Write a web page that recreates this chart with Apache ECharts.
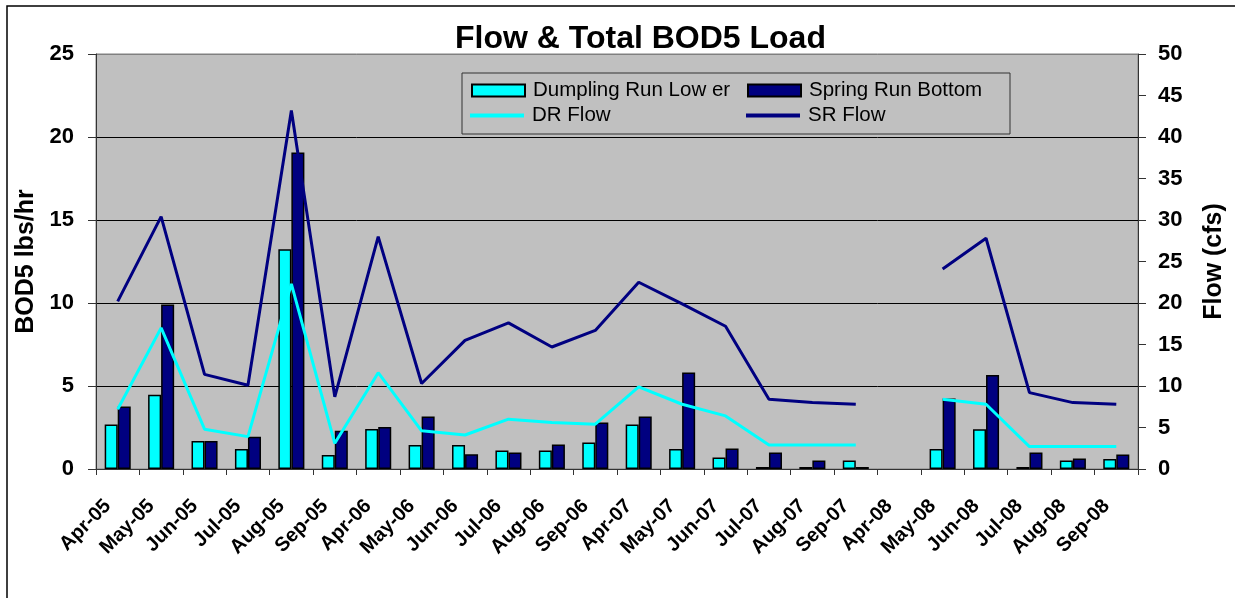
<!DOCTYPE html>
<html>
<head>
<meta charset="utf-8">
<script src="https://cdn.jsdelivr.net/npm/echarts@6/dist/echarts.min.js"></script>
<style>
html, body { margin: 0; padding: 0; background: #fff; }
#chart { width: 1235px; height: 598px; }
</style>
</head>
<body>
<div id="chart"></div>
<script>
var chart = echarts.init(document.getElementById('chart'));

// months
var months = ['Apr-05', 'May-05', 'Jun-05', 'Jul-05', 'Aug-05', 'Sep-05',
    'Apr-06', 'May-06', 'Jun-06', 'Jul-06', 'Aug-06', 'Sep-06',
    'Apr-07', 'May-07', 'Jun-07', 'Jul-07', 'Aug-07', 'Sep-07',
    'Apr-08', 'May-08', 'Jun-08', 'Jul-08', 'Aug-08', 'Sep-08'];

// BOD5 load, lbs/hr
var drLoad = [2.68, 4.48, 1.69, 1.21, 13.24, 0.84, 2.41, 1.45, 1.45, 1.11, 1.11, 1.59,
    2.68, 1.21, 0.70, 0.12, 0.12, 0.51, null, 1.21, 2.39, 0.12, 0.51, 0.60];
var srLoad = [3.76, 9.91, 1.69, 1.95, 19.07, 2.31, 2.53, 3.16, 0.89, 0.99, 1.47, 2.80,
    3.16, 5.81, 1.23, 0.99, 0.51, 0.12, null, 4.25, 5.67, 0.99, 0.63, 0.87];

// flow, cfs
var drFlow = [7.2, 17.0, 4.8, 3.9, 22.3, 3.1, 11.6, 4.6, 4.1, 6.0, 5.6, 5.4,
    9.9, 7.8, 6.4, 2.9, 2.9, 2.9, null, 8.4, 7.8, 2.7, 2.7, 2.7];
var srFlow = [20.2, 30.4, 11.4, 10.1, 43.2, 8.7, 28.0, 10.3, 15.5, 17.6, 14.7, 16.7,
    22.5, 19.9, 17.2, 8.4, 8.0, 7.8, null, 24.1, 27.8, 9.2, 8.0, 7.8];

var font = 'Arial, "Liberation Sans", sans-serif';

function legendItem(name, left, top, w, h) {
    return {
        data: [name],
        left: left,
        top: top,
        icon: 'rect',
        itemWidth: w,
        itemHeight: h,
        textStyle: { color: '#000', fontSize: 20.5, fontFamily: font, padding: [0, 0, 0, 3] }
    };
}

option = {
    animation: false,
    backgroundColor: '#ffffff',
    title: {
        text: 'Flow & Total BOD5 Load',
        left: 450,
        top: 18,
        textStyle: {
            color: '#000',
            fontSize: 32,
            fontWeight: 'bold',
            fontFamily: font
        }
    },
    grid: {
        left: 96,
        right: 93,
        top: 54,
        bottom: 129,
        show: true,
        backgroundColor: '#c0c0c0',
        borderColor: '#808080',
        borderWidth: 1
    },
    legend: [
        legendItem('Dumpling Run Low er', 466, 75, 53, 12),
        legendItem('Spring Run Bottom', 742, 75, 53, 12),
        legendItem('DR Flow', 465, 100, 54, 4),
        legendItem('SR Flow', 741, 100, 54, 4)
    ],
    graphic: [
        {
            type: 'rect',
            shape: { x: 462, y: 73, width: 548, height: 61 },
            style: { fill: 'none', stroke: '#333', lineWidth: 1 },
            z: 10
        },
        {
            type: 'rect',
            shape: { x: 7, y: 6, width: 1240, height: 600 },
            style: { fill: 'none', stroke: '#000', lineWidth: 1.5 },
            z: 10
        }
    ],
    xAxis: {
        type: 'category',
        data: months,
        axisLine: { lineStyle: { color: '#333', width: 1 } },
        axisTick: { show: true, length: 6, lineStyle: { color: '#333' } },
        axisLabel: {
            interval: 0,
            rotate: 45,
            margin: 24,
            padding: [0, 14, 0, 0],
            color: '#000',
            fontSize: 20,
            fontWeight: 'bold',
            fontFamily: font
        }
    },
    yAxis: [
        {
            type: 'value',
            min: 0,
            max: 25,
            interval: 5,
            name: 'BOD5 lbs/hr',
            nameLocation: 'middle',
            nameRotate: 90,
            nameGap: 54,
            nameTextStyle: { color: '#000', fontSize: 25, fontWeight: 'bold', fontFamily: font },
            axisLine: { show: true, lineStyle: { color: '#333' } },
            axisTick: { show: true, length: 8, lineStyle: { color: '#333' } },
            axisLabel: { margin: 22, color: '#000', fontSize: 22, fontWeight: 'bold', fontFamily: font },
            splitLine: {
                show: true,
                lineStyle: { color: ['#808080', '#000', '#000', '#000', '#000', '#808080'], width: 1 }
            }
        },
        {
            type: 'value',
            min: 0,
            max: 50,
            interval: 5,
            position: 'right',
            name: 'Flow (cfs)',
            nameLocation: 'middle',
            nameRotate: 90,
            nameGap: 64,
            nameTextStyle: { color: '#000', fontSize: 25, fontWeight: 'bold', fontFamily: font },
            axisLine: { show: true, lineStyle: { color: '#333' } },
            axisTick: { show: true, length: 8, lineStyle: { color: '#333' } },
            axisLabel: { margin: 20, color: '#000', fontSize: 22, fontWeight: 'bold', fontFamily: font },
            splitLine: { show: false }
        }
    ],
    series: [
        {
            name: 'Dumpling Run Low er',
            type: 'bar',
            data: drLoad,
            barGap: 0,
            barCategoryGap: '40%',
            itemStyle: { color: '#00ffff', borderColor: '#000', borderWidth: 1.5 }
        },
        {
            name: 'Spring Run Bottom',
            type: 'bar',
            data: srLoad,
            itemStyle: { color: '#000080', borderColor: '#000', borderWidth: 1.5 }
        },
        {
            name: 'DR Flow',
            type: 'line',
            yAxisIndex: 1,
            data: drFlow,
            symbol: 'none',
            connectNulls: false,
            itemStyle: { color: '#00ffff' },
            lineStyle: { color: '#00ffff', width: 3 },
            z: 5
        },
        {
            name: 'SR Flow',
            type: 'line',
            yAxisIndex: 1,
            data: srFlow,
            symbol: 'none',
            connectNulls: false,
            itemStyle: { color: '#000080' },
            lineStyle: { color: '#000080', width: 3 },
            z: 5
        }
    ]
};

chart.setOption(option);
</script>
</body>
</html>
